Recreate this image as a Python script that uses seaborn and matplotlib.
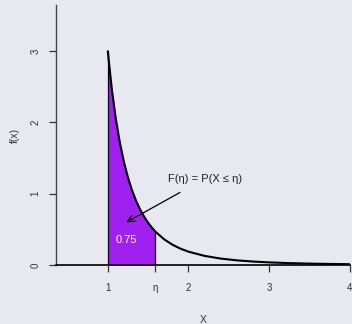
import numpy as np
import matplotlib
matplotlib.use("Agg")
import matplotlib.pyplot as plt
import seaborn as sns

# density curve values
x_vals = [1.0, 1.05, 1.1, 1.15, 1.2, 1.25, 1.3, 1.35, 1.4, 1.45, 1.5, 1.55, 1.587,
          1.6, 1.7, 1.8, 1.9, 2.0, 2.2, 2.4, 2.6, 2.8, 3.0, 3.25, 3.5, 3.75, 4.0]
f_vals = [3.0, 2.468, 2.049, 1.715, 1.447, 1.229, 1.050, 0.903, 0.781, 0.679, 0.593,
          0.520, 0.473, 0.458, 0.359, 0.286, 0.230, 0.1875, 0.128, 0.0904, 0.0657,
          0.0488, 0.0370, 0.0269, 0.0200, 0.0152, 0.0117]
eta = 1.587
area_label = "0.75"
x_ticks = [1, eta, 2, 3, 4]
x_tick_labels = ["1", "η", "2", "3", "4"]
y_ticks = [0, 1, 2, 3]

sns.set_theme(style="dark", rc={"axes.facecolor": "#E8E8F0", "figure.facecolor": "#E8E8F0"})
plt.rcParams['font.family'] = ['Liberation Sans', 'DejaVu Sans']

fig = plt.figure(figsize=(3.52, 3.24), dpi=100)
ax = fig.add_axes([0.159, 0.182, 0.835, 0.803])

x = np.array(x_vals)
f = np.array(f_vals)
mask = x <= eta + 1e-9
ax.fill_between(x[mask], 0, f[mask], color="#A020F0", linewidth=0)
ax.vlines([1, eta], 0, [f_vals[0], f[mask][-1]], color="black", lw=0.9)
sns.lineplot(x=x, y=f, color="black", lw=1.5, ax=ax)

ax.text(1.23, 0.35, area_label, color="white", fontsize=8, ha="center", va="center")
ax.annotate("F(η) = P(X ≤ η)", xy=(1.23, 0.60), xytext=(2.2, 1.21),
            fontsize=8, ha="center", va="center", color="#222222",
            arrowprops=dict(arrowstyle="->", color="black", lw=0.9,
                            shrinkA=8, shrinkB=0, mutation_scale=12))

ax.set_xlim(0.358, 4.0)
ax.set_ylim(0, 3.65)
ax.set_xticks(x_ticks)
ax.set_xticklabels(x_tick_labels)
ax.set_yticks(y_ticks)
ax.set_yticklabels([str(v) for v in y_ticks], rotation=90, va="center")

for side in ["top", "right"]:
    ax.spines[side].set_visible(False)
ax.spines["left"].set_color("#444444")
ax.spines["bottom"].set_color("black")
ax.spines["left"].set_linewidth(1.0)
ax.spines["bottom"].set_linewidth(1.2)
ax.tick_params(axis="both", which="both", bottom=True, left=True, length=5, width=0.9,
               color="#333333", labelsize=7, labelcolor="#333333", direction="out", pad=8)
ax.tick_params(axis="y", pad=6)

ax.set_xlabel("X", fontsize=7.5, color="#333333", labelpad=16)
ax.set_ylabel("f(x)", fontsize=7.5, color="#333333", labelpad=8)

fig.savefig("out.png", dpi=100)
